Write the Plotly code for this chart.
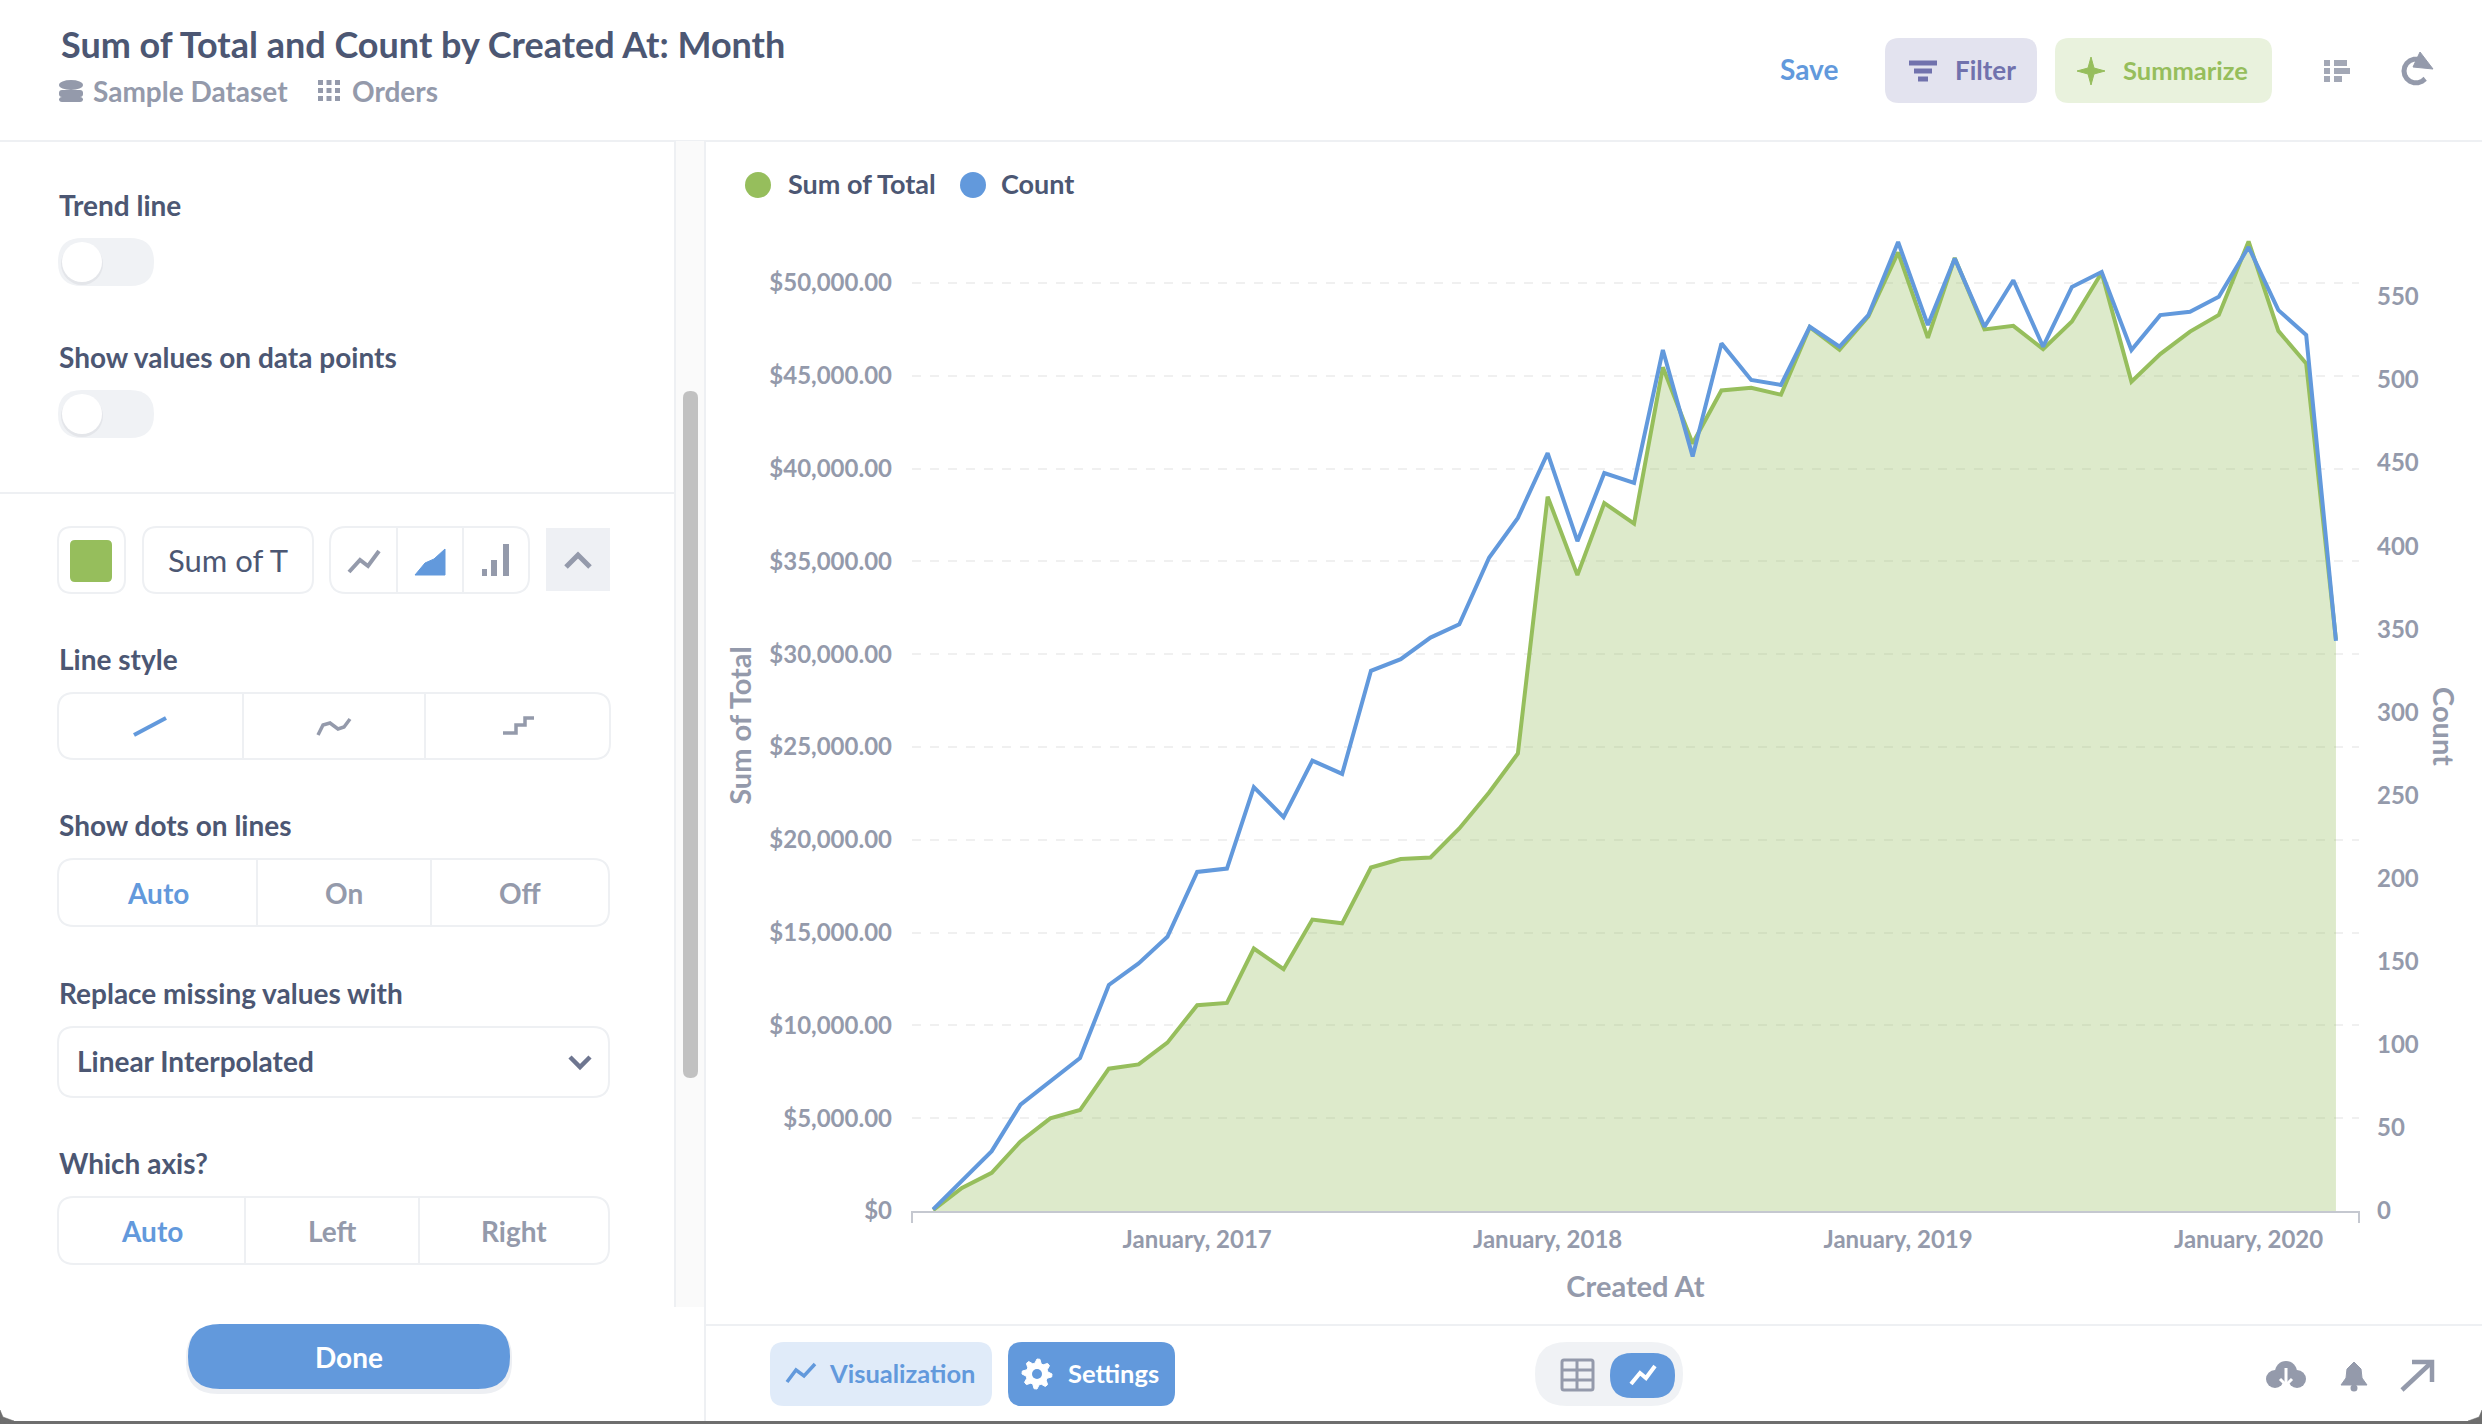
import math
import plotly.graph_objects as go

W, H = 2482, 1424

# values, one per month from April 2016 to April 2020
months = [
    "2016-04-01", "2016-05-01", "2016-06-01", "2016-07-01", "2016-08-01", "2016-09-01", "2016-10-01",
    "2016-11-01", "2016-12-01", "2017-01-01", "2017-02-01", "2017-03-01", "2017-04-01", "2017-05-01",
    "2017-06-01", "2017-07-01", "2017-08-01", "2017-09-01", "2017-10-01", "2017-11-01", "2017-12-01",
    "2018-01-01", "2018-02-01", "2018-03-01", "2018-04-01", "2018-05-01", "2018-06-01", "2018-07-01",
    "2018-08-01", "2018-09-01", "2018-10-01", "2018-11-01", "2018-12-01", "2019-01-01", "2019-02-01",
    "2019-03-01", "2019-04-01", "2019-05-01", "2019-06-01", "2019-07-01", "2019-08-01", "2019-09-01",
    "2019-10-01", "2019-11-01", "2019-12-01", "2020-01-01", "2020-02-01", "2020-03-01", "2020-04-01",
]
sum_of_total = [
    50, 1240, 2060, 3750, 4990, 5440, 7670, 7900, 9070, 11090, 11210, 14140, 13030, 15700, 15500,
    18510, 18960, 19050, 20610, 22550, 24650, 38490, 34260, 38140, 37040, 45460, 41350, 44210, 44360,
    43980, 47620, 46400, 48200, 51650, 47040, 51350, 47500, 47690, 46440, 47930, 50550, 44680, 46170,
    47380, 48280, 52240, 47420, 45660, 30780,
]
count = [
    1, 18, 36, 64, 78, 92, 136, 149, 165, 204, 206, 255, 237, 271, 263, 325, 332, 345, 353, 393, 417,
    456, 403, 444, 438, 518, 454, 522, 500, 497, 532, 520, 539, 583, 533, 573, 532, 560, 520, 556,
    565, 518, 539, 541, 550, 580, 542, 527, 343,
]
left_ticks = [0, 5000, 10000, 15000, 20000, 25000, 30000, 35000, 40000, 45000, 50000]
left_labels = ["$0", "$5,000.00", "$10,000.00", "$15,000.00", "$20,000.00", "$25,000.00",
               "$30,000.00", "$35,000.00", "$40,000.00", "$45,000.00", "$50,000.00"]
right_ticks = [0, 50, 100, 150, 200, 250, 300, 350, 400, 450, 500, 550]
x_ticks = ["2017-01-01", "2018-01-01", "2019-01-01", "2020-01-01"]
x_labels = ["January, 2017", "January, 2018", "January, 2019", "January, 2020"]

GREEN = "#96BE5C"
BLUE = "#6299DC"
DARK = "#4C5773"
GRAY = "#949AAB"
BORDER = "#EEF0F3"
FONT = "Lato"

fig = go.Figure()
fig.add_trace(go.Scatter(x=months, y=sum_of_total, name="Sum of Total", mode="lines", yaxis="y",
                         line=dict(color=GREEN, width=4), fill="tozeroy",
                         fillcolor="rgba(150,190,92,0.32)", cliponaxis=False))
fig.add_trace(go.Scatter(x=months, y=count, name="Count", mode="lines", yaxis="y2",
                         line=dict(color=BLUE, width=4), cliponaxis=False))

shapes = []
annots = []


def X(p):
    return p / W


def Y(p):
    return 1 - p / H


def rrect(x0, y0, x1, y1, r=0, fill=None, line=None, lw=2, layer="below"):
    k = r
    d = (f"M{X(x0 + k)},{Y(y0)} L{X(x1 - k)},{Y(y0)} Q{X(x1)},{Y(y0)} {X(x1)},{Y(y0 + k)} "
         f"L{X(x1)},{Y(y1 - k)} Q{X(x1)},{Y(y1)} {X(x1 - k)},{Y(y1)} "
         f"L{X(x0 + k)},{Y(y1)} Q{X(x0)},{Y(y1)} {X(x0)},{Y(y1 - k)} "
         f"L{X(x0)},{Y(y0 + k)} Q{X(x0)},{Y(y0)} {X(x0 + k)},{Y(y0)} Z")
    shapes.append(dict(type="path", path=d, xref="paper", yref="paper", layer=layer,
                       fillcolor=fill or "rgba(0,0,0,0)",
                       line=dict(color=line or "rgba(0,0,0,0)", width=lw if line else 0)))


def poly(pts, color, lw=3, fill=None, layer="above"):
    d = "M" + " L".join(f"{X(a)},{Y(b)}" for a, b in pts)
    if fill:
        d += " Z"
    shapes.append(dict(type="path", path=d, xref="paper", yref="paper", layer=layer,
                       fillcolor=fill or "rgba(0,0,0,0)",
                       line=dict(color=color, width=lw)))


def circle(cx, cy, rx, fill, ry=None, layer="above"):
    ry = ry or rx
    shapes.append(dict(type="circle", xref="paper", yref="paper", x0=X(cx - rx), x1=X(cx + rx),
                       y0=Y(cy + ry), y1=Y(cy - ry), fillcolor=fill, line=dict(width=0), layer=layer))


def text(x, y, s, size=28, color=DARK, weight=700, anchor="left", angle=0):
    annots.append(dict(x=X(x), y=Y(y - 1), xref="paper", yref="paper", text=s, showarrow=False,
                       xanchor=anchor, yanchor="middle", borderpad=0, textangle=angle,
                       font=dict(family=FONT, size=size, color=color, weight=weight)))


def group(x0, y0, x1, y1, dividers):
    rrect(x0, y0, x1, y1, 16, "#FFFFFF", BORDER, 2)
    for d in dividers:
        poly([(d, y0), (d, y1)], BORDER, 2, layer="below")


# frame of the page
poly([(0, 141), (W, 141)], BORDER, 2, layer="below")
poly([(0, 493), (675, 493)], BORDER, 2, layer="below")
rrect(675, 141, 705, 1307, 0, "#FAFAFA")
poly([(675, 141), (675, 1307)], BORDER, 2, layer="below")
poly([(705, 141), (705, 1421)], BORDER, 2, layer="below")
poly([(705, 1325), (W, 1325)], BORDER, 2, layer="below")
rrect(683, 391, 698, 1078, 7, "#C1C1C1")
rrect(0, 1421, W, H, 0, "#6E6E6E")
poly([(0, 1410), (3, 1417), (14, 1421), (0, 1424)], "#6E6E6E", 0.5, fill="#6E6E6E", layer="below")
poly([(W, 1410), (W - 3, 1417), (W - 14, 1421), (W, 1424)], "#6E6E6E", 0.5, fill="#6E6E6E", layer="below")

# header
text(60, 45, "Sum of Total and Count by Created At: Month", 36)
text(92, 92, "Sample Dataset", 28, GRAY)
text(351, 92, "Orders", 28, GRAY)
circle(71, 85, 12, GRAY, 5)
rrect(59, 90, 83, 97, 3, GRAY, layer="above")
rrect(59, 97, 83, 102, 3, GRAY, layer="above")
for i in range(3):
    for j in range(3):
        rrect(318 + i * 8.5, 80 + j * 8, 323 + i * 8.5, 85 + j * 8, 0, GRAY, layer="above")
text(1809, 70, "Save", 28, BLUE, anchor="center")
rrect(1885, 38, 2037, 103, 14, "#E3E3EF")
for y, half in [(63, 14), (71, 9), (79, 5)]:
    poly([(1923 - half, y), (1923 + half, y)], "#7172AD", 5)
text(1985, 71, "Filter", 26, "#7172AD", anchor="center")
rrect(2055, 38, 2272, 103, 14, "#E9F2DD")
poly([(2091, 57), (2094, 68), (2105, 71), (2094, 74), (2091, 85), (2088, 74), (2077, 71), (2088, 68)],
     GREEN, 1, fill=GREEN)
text(2185, 71, "Summarize", 25.5, GREEN, anchor="center")
for y, a, b in [(63, 2324, 2347), (71, 2324, 2350), (79, 2324, 2342)]:
    poly([(a, y), (a + 6, y)], "#A3A8B6", 6)
    poly([(a + 10, y), (b, y)], "#A3A8B6", 6)
arc = [(2416 + 12 * math.cos(math.radians(a)), 71 + 12 * math.sin(math.radians(a))) for a in range(40, 320, 20)]
poly(arc, GRAY, 5)
poly([(2420, 52), (2433, 69), (2413, 67)], GRAY, 1, fill=GRAY)

# sidebar: toggles
text(58, 206, "Trend line")
text(58, 358, "Show values on data points")
for y in (262, 414):
    rrect(58, y - 24, 154, y + 24, 24, "#F0F2F5")
    circle(82, y + 2, 21, "#E4E6EA")
    circle(82, y, 20, "#FFFFFF")

# sidebar: series row
rrect(58, 527, 125, 593, 14, "#FFFFFF", BORDER)
rrect(70, 540, 112, 582, 5, GREEN)
rrect(143, 527, 313, 593, 14, "#FFFFFF", BORDER)
text(167, 561, "Sum of T", 31, DARK, 400)
group(330, 527, 529, 593, [397, 463])
poly([(349, 572), (360, 560), (368, 566), (379, 551)], GRAY, 4)
poly([(415, 575), (425, 563), (434, 559), (445, 549), (445, 575)], BLUE, 1, fill=BLUE)
poly([(417, 569), (426, 558), (435, 553), (445, 545)], "#FFFFFF", 2)
rrect(482, 569, 487, 576, 0, GRAY, layer="above")
rrect(491, 560, 497, 576, 0, GRAY, layer="above")
rrect(503, 544, 509, 576, 0, GRAY, layer="above")
rrect(546, 528, 610, 591, 0, "#EEF0F4")
poly([(566, 567), (578, 555), (590, 567)], GRAY, 5)

# sidebar: line style
text(58, 660, "Line style")
group(58, 693, 610, 759, [243, 425])
poly([(134, 735), (166, 718)], BLUE, 4)
poly([(318, 735), (323, 725), (330, 723), (338, 729), (344, 727), (350, 719)], GRAY, 3.5)
poly([(503, 733), (516, 733), (516, 725), (525, 725), (525, 718), (534, 718)], GRAY, 3.5)

# sidebar: dots
text(58, 826, "Show dots on lines")
group(58, 859, 609, 926, [257, 431])
text(158, 894, "Auto", 28, BLUE, anchor="center")
text(344, 894, "On", 28, GRAY, anchor="center")
text(520, 894, "Off", 28, GRAY, anchor="center")

# sidebar: missing values
text(58, 994, "Replace missing values with")
rrect(58, 1027, 609, 1097, 16, "#FFFFFF", BORDER)
text(76, 1062, "Linear Interpolated", 28)
poly([(570, 1057), (580, 1067), (590, 1057)], "#6E7690", 4.5)

# sidebar: axis
text(58, 1164, "Which axis?")
group(58, 1197, 609, 1264, [245, 419])
text(152, 1232, "Auto", 28, BLUE, anchor="center")
text(332, 1232, "Left", 28, GRAY, anchor="center")
text(514, 1232, "Right", 28, GRAY, anchor="center")

# done button
rrect(186, 1326, 512, 1394, 32, "#EDEFF3")
rrect(188, 1324, 510, 1389, 32, BLUE)
text(349, 1358, "Done", 28, "#FFFFFF", anchor="center")

# legend of the chart
circle(758, 185, 13, GREEN)
text(787, 185, "Sum of Total", 27)
circle(973, 185, 13, BLUE)
text(1000, 185, "Count", 27)

# right axis title reads downward, plotly would turn it the other way
text(2445, 727, "Count", 29, GRAY, anchor="center", angle=90)

# end ticks of the x axis
poly([(912, 1211), (912, 1223)], "#C5C8D0", 2, layer="below")
poly([(2359, 1211), (2359, 1223)], "#C5C8D0", 2, layer="below")

# bottom bar
rrect(770, 1342, 992, 1406, 14, "#E0EBF9")
poly([(787, 1382), (796, 1370), (804, 1376), (815, 1364)], BLUE, 3.5)
text(902, 1374, "Visualization", 25.5, BLUE, anchor="center")
rrect(1008, 1342, 1175, 1406, 14, BLUE)
gear = []
for i in range(32):
    a = math.radians(i * 360 / 32)
    r = 15 if i % 4 in (0, 1) else 11
    gear.append((1037 + r * math.cos(a), 1374 + r * math.sin(a)))
poly(gear, "#FFFFFF", 1, fill="#FFFFFF")
circle(1037, 1374, 5, BLUE)
text(1113, 1374, "Settings", 25.5, "#FFFFFF", anchor="center")
rrect(1535, 1342, 1683, 1406, 32, "#F0F2F5")
rrect(1610, 1353, 1675, 1398, 22, BLUE)
poly([(1631, 1384), (1640, 1373), (1646, 1378), (1655, 1366)], "#FFFFFF", 4)
rrect(1562, 1360, 1593, 1390, 2, None, GRAY, 3, layer="above")
poly([(1562, 1370), (1593, 1370)], GRAY, 3)
poly([(1562, 1380), (1593, 1380)], GRAY, 3)
poly([(1577, 1360), (1577, 1390)], GRAY, 3)
circle(2286, 1372, 11, GRAY)
circle(2275, 1379, 9, GRAY)
circle(2297, 1379, 9, GRAY)
poly([(2286, 1368), (2286, 1384)], "#FFFFFF", 3)
poly([(2280, 1379), (2286, 1385), (2292, 1379)], "#FFFFFF", 3)
poly([(2341, 1385), (2346, 1378), (2347, 1369), (2354, 1362), (2361, 1369), (2362, 1378), (2367, 1385)],
     GRAY, 1, fill=GRAY)
circle(2354, 1388, 3.5, GRAY)
poly([(2402, 1390), (2432, 1362)], GRAY, 4.5)
poly([(2412, 1362), (2432, 1362), (2432, 1382)], GRAY, 4.5)

tick_font = dict(family=FONT, size=24, color=GRAY)
title_font = dict(family=FONT, size=29, color=GRAY)


def bold(labels):
    return [f"<b>{s}</b>" for s in labels]


fig.update_layout(
    width=W, height=H, autosize=False,
    margin=dict(l=0, r=0, t=0, b=0, pad=0),
    paper_bgcolor="#FFFFFF", plot_bgcolor="rgba(0,0,0,0)",
    showlegend=False,
    hovermode=False,
    shapes=shapes,
    annotations=annots,
    xaxis=dict(
        type="date", domain=[X(912), X(2359)], range=["2016-03-10", "2020-04-25"], automargin=False,
        tickvals=x_ticks, ticktext=bold(x_labels), tickfont=tick_font, ticklabelstandoff=6,
        ticks="", showgrid=False, zeroline=False, showline=True, linecolor="#C5C8D0", linewidth=2,
        title=dict(text="<b>Created At</b>", font=title_font, standoff=25),
    ),
    yaxis=dict(
        domain=[Y(1211), Y(240)], range=[0, 52317], tickvals=left_ticks, ticktext=bold(left_labels),
        automargin=False,
        tickfont=tick_font, ticks="", ticklabelstandoff=19, showline=False, zeroline=False,
        showgrid=True, gridcolor="#F0F0F0", griddash="dash", gridwidth=1.5,
        title=dict(text="<b>Sum of Total</b>", font=title_font, standoff=9),
    ),
    yaxis2=dict(
        domain=[Y(1211), Y(240)], range=[0, 584.2], tickvals=right_ticks, automargin=False,
        ticktext=bold([str(v) for v in right_ticks]), overlaying="y", side="right",
        tickfont=tick_font, ticks="", ticklabelstandoff=17, showline=False, zeroline=False,
        showgrid=False,
    ),
)

# no page margin around the figure
page = ("document.documentElement.style.cssText='margin:0;overflow:hidden';"
        "document.body.style.cssText='margin:0;overflow:hidden';")
fig.write_html("out.html", config={"displayModeBar": False},
               default_width=f"{W}px", default_height=f"{H}px", post_script=page)
